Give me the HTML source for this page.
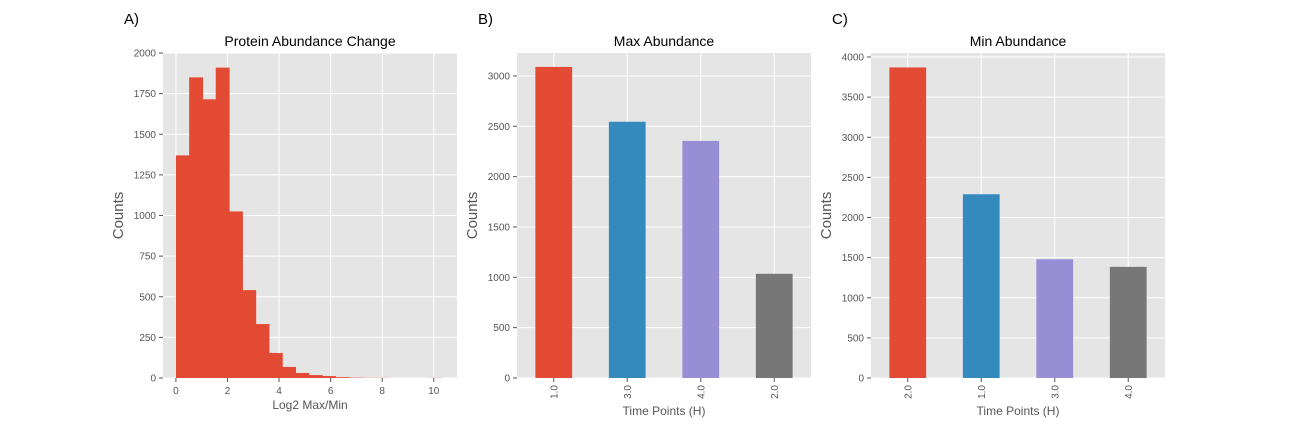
<!DOCTYPE html>
<html><head><meta charset="utf-8"><style>
body{margin:0;background:#fff;}
svg{display:block;font-family:"Liberation Sans",sans-serif;}
</style></head><body>
<svg id="fig" width="1296" height="432"></svg>
<script>
const histCounts=[1370,1850,1715,1910,1025,541,332,154,68,31,18,12,5,2,1,1,0,0,0,1];
const histBinStart=0, histBinWidth=0.515;
const histYTicks=[0,250,500,750,1000,1250,1500,1750,2000];
const histXTicks=[0,2,4,6,8,10];
const maxCats=["1.0","3.0","4.0","2.0"];
const maxVals=[3090,2545,2355,1035];
const maxYTicks=[0,500,1000,1500,2000,2500,3000];
const minCats=["2.0","1.0","3.0","4.0"];
const minVals=[3870,2290,1480,1385];
const minYTicks=[0,500,1000,1500,2000,2500,3000,3500,4000];
const barColors=["#E24A33","#348ABD","#988ED5","#777777"];

const NS="http://www.w3.org/2000/svg";
const svg=document.getElementById('fig');
function mk(tag,attrs,parent,text){const e=document.createElementNS(NS,tag);for(const k in attrs)e.setAttribute(k,attrs[k]);if(text!==undefined)e.textContent=text;(parent||svg).appendChild(e);return e;}

function panel(o){
  const g=mk('g',{});
  
  
  const L=o.left,R=o.left+294,T=53,B=378;
  const bg=mk('rect',{x:L,y:T,width:R-L,height:B-T,fill:'#E5E5E5'},g);
  
  const ys=v=>B-(v-o.ymin)/(o.ymax-o.ymin)*(B-T);
  const xs=v=>L+(v-o.xmin)/(o.xmax-o.xmin)*(R-L);
  o.yTicks.forEach(t=>{
    const y=ys(t);
    mk('line',{x1:L,x2:R,y1:y,y2:y,stroke:'#fff','stroke-width':1},g);
    mk('line',{x1:L-4,x2:L,y1:y,y2:y,stroke:'#555'},g);
    const tx=mk('text',{x:L-7,y:y+3.5,'text-anchor':'end','font-size':10,fill:'#555'},g,String(t));
    
  });
  if(o.hist){
    histXTicks.forEach(t=>{
      const x=xs(t);
      mk('line',{x1:x,x2:x,y1:T,y2:B,stroke:'#fff'},g);
      mk('line',{x1:x,x2:x,y1:B,y2:B+4,stroke:'#555'},g);
      const tx=mk('text',{x:x,y:B+16,'text-anchor':'middle','font-size':10,fill:'#555'},g,String(t));
      
    });
    histCounts.forEach((c,i)=>{
      const x0=xs(histBinStart+i*histBinWidth),x1=xs(histBinStart+(i+1)*histBinWidth);
      const r=mk('rect',{x:x0,y:ys(c),width:x1-x0+0.6,height:B-ys(c),fill:'#E24A33'},g);
      
    });
  } else {
    o.cats.forEach((c,i)=>{
      const x=xs(i);
      mk('line',{x1:x,x2:x,y1:T,y2:B,stroke:'#fff'},g);
      const v=o.vals[i];
      const r=mk('rect',{x:xs(i-0.25),y:ys(v),width:xs(i+0.25)-xs(i-0.25),height:B-ys(v),fill:barColors[i]},g);
      
      mk('line',{x1:x,x2:x,y1:B,y2:B+4,stroke:'#555'},g);
      const tx=mk('text',{x:0,y:0,'text-anchor':'end','font-size':10,fill:'#555',transform:`translate(${x+3.5},${B+7}) rotate(-90)`},g,c);
      
    });
  }
  const t=mk('text',{x:(L+R)/2,y:46,'text-anchor':'middle','font-size':14,fill:'#000'},g,o.title);
  
  const xl=mk('text',{x:(L+R)/2,y:o.hist?409:415,'text-anchor':'middle','font-size':12,fill:'#555'},g,o.xlabel);
  
  const yl=mk('text',{x:0,y:0,'text-anchor':'middle','font-size':15,fill:'#555',transform:`translate(${L-40},${(T+B)/2}) rotate(-90)`},g,'Counts');
  
  const pl=mk('text',{x:L-39,y:24,'font-size':15,fill:'#000'},g,o.label);
  
}
panel({name:'histogram-panel',left:163,hist:true,xmin:-0.5,xmax:10.9,ymin:0,ymax:2000,yTicks:histYTicks,title:'Protein Abundance Change',xlabel:'Log2 Max/Min',label:'A)'});
panel({name:'max-abundance-panel',left:517,xmin:-0.5,xmax:3.5,ymin:0,ymax:3228,yTicks:maxYTicks,cats:maxCats,vals:maxVals,title:'Max Abundance',xlabel:'Time Points (H)',label:'B)'});
panel({name:'min-abundance-panel',left:871,xmin:-0.5,xmax:3.5,ymin:0,ymax:4050,yTicks:minYTicks,cats:minCats,vals:minVals,title:'Min Abundance',xlabel:'Time Points (H)',label:'C)'});
</script>
</body></html>
